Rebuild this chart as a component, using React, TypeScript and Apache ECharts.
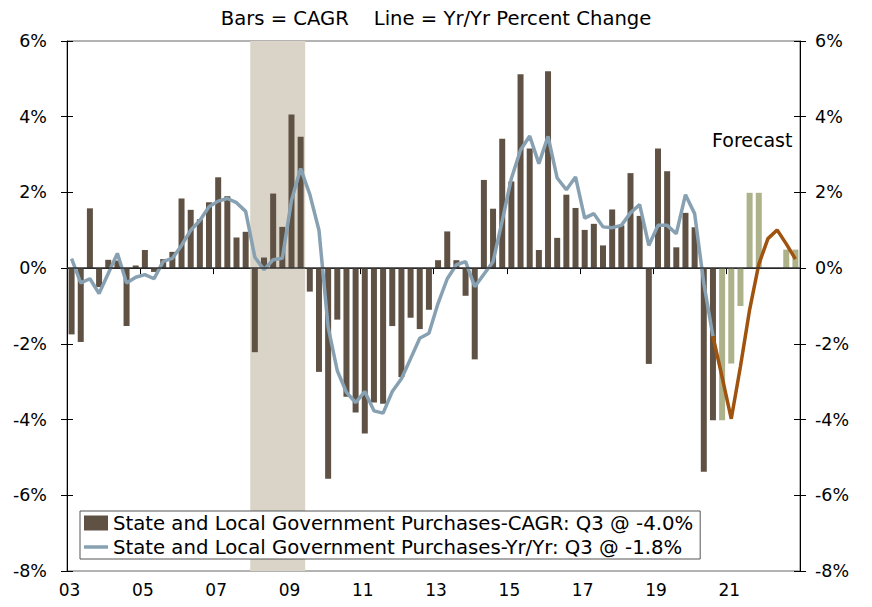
import React, { useEffect, useRef } from 'react';
import * as echarts from 'echarts';

// ---- Categories: quarters 2003Q1 .. 2022Q4 ----
const startYear = 2003;
const quarterCount = 80;
const quarters: string[] = Array.from(
  { length: quarterCount },
  (_, i) => `${startYear + Math.floor(i / 4)}Q${(i % 4) + 1}`
);

// Recession shading (inclusive quarters)
const recessionStart = '2008Q1';
const recessionEnd = '2009Q2';

// ---- CAGR bars (actual, 2003Q1 .. 2020Q3) ----
const cagrActual: number[] = [
  -1.75, -1.95, 1.58, -0.5, 0.22, 0.2, -1.53, 0.07,
  0.48, -0.1, 0.24, 0.43, 1.84, 1.54, 1.29, 1.74,
  2.4, 1.9, 0.81, 0.96, -2.22, 0.28, 1.97, 1.09,
  4.06, 3.47, -0.62, -2.74, -5.56, -1.36, -3.4, -3.81,
  -4.37, -3.55, -3.58, -1.53, -2.88, -1.31, -1.61, -1.1,
  0.21, 0.97, 0.21, -0.73, -2.41, 2.33, 1.57, 3.42,
  2.29, 5.12, 3.16, 0.48, 5.2, 0.8, 1.94, 1.59,
  1.01, 1.17, 0.6, 1.55, 1.13, 2.51, 1.38, -2.53,
  3.16, 2.56, 0.55, 1.46, 1.08, -5.38, -4.02,
];
// ---- CAGR bars (forecast, 2020Q4 .. 2022Q4) ----
const cagrForecast: number[] = [-4.02, -2.52, -1.0, 1.99, 1.99, 0, 0, 0.49, 0.49];

// ---- Yr/Yr line (actual) ----
const yoyActual: number[] = [
  0.25, -0.39, -0.28, -0.67, -0.14, 0.39, -0.39, -0.24,
  -0.17, -0.28, 0.18, 0.26, 0.6, 1.0, 1.26, 1.62,
  1.77, 1.84, 1.73, 1.5, 0.29, -0.04, 0.22, 0.26,
  1.79, 2.63, 1.95, 1.0, -1.56, -2.71, -3.28, -3.55,
  -3.26, -3.77, -3.83, -3.26, -2.92, -2.39, -1.85, -1.72,
  -0.93, -0.28, 0.09, 0.17, -0.49, -0.16, 0.17, 1.25,
  2.37, 3.12, 3.49, 2.76, 3.48, 2.38, 2.07, 2.41,
  1.32, 1.44, 1.09, 1.07, 1.13, 1.46, 1.68, 0.6,
  1.13, 1.13, 0.91, 1.94, 1.44, -0.4, -1.8,
];
// ---- Yr/Yr line (forecast) ----
const yoyForecast: number[] = [-2.88, -3.98, -2.6, -1.1, 0.1, 0.78, 1.01, 0.64, 0.24];

const barName = 'State and Local Government Purchases-CAGR: Q3 @ -4.0%';
const lineName = 'State and Local Government Purchases-Yr/Yr: Q3 @ -1.8%';
const titleText = 'Bars = CAGR    Line = Yr/Yr Percent Change';
const forecastLabel = 'Forecast';

const FONT = '"DejaVu Sans", Verdana, sans-serif';

export default function App() {
  const ref = useRef<HTMLDivElement>(null);

  useEffect(() => {
    if (!ref.current) return;
    const chart = echarts.init(ref.current, undefined, { renderer: 'svg' });

    const nA = cagrActual.length;
    const barActualData = quarters.map((_, i) => (i < nA ? cagrActual[i] : null));
    const barForecastData = quarters.map((_, i) => (i >= nA ? cagrForecast[i - nA] : null));
    const nY = yoyActual.length;
    const lineActualData = quarters.map((_, i) => (i < nY ? yoyActual[i] : null));
    const lineForecastData = quarters.map((_, i) =>
      i === nY - 1 ? yoyActual[nY - 1] : i >= nY ? yoyForecast[i - nY] : null
    );

    const recStartIdx = quarters.indexOf(recessionStart);
    const recEndIdx = quarters.indexOf(recessionEnd) + 1;

    const yBase = {
      type: 'value',
      min: -8,
      max: 6,
      interval: 2,
      splitLine: { show: false },
    };

    const option: any = {
      animation: false,
      textStyle: { fontFamily: FONT },
      title: {
        text: titleText,
        left: 'center',
        top: 3,
        textStyle: { fontSize: 19.6, fontWeight: 'normal', color: '#000', fontFamily: FONT },
      },
      grid: {
        left: 67,
        right: 72,
        top: 41,
        bottom: 36,
        show: true,
        borderColor: '#666',
        borderWidth: 1,
        backgroundColor: 'transparent',
      },
      legend: {
        data: [
          { name: barName, icon: 'rect' },
          { name: lineName, icon: 'path://M0,0H24V3.5H0Z' },
        ],
        orient: 'vertical',
        left: 80,
        top: 511,
        itemWidth: 24,
        itemHeight: 15,
        itemGap: 4,
        padding: [2, 7, 2, 4],
        borderColor: '#555',
        borderWidth: 1,
        backgroundColor: '#fff',
        textStyle: { fontSize: 19.7, color: '#000', fontFamily: FONT },
      },
      xAxis: [
        {
          type: 'category',
          data: quarters,
          position: 'bottom',
          axisLine: { show: true, lineStyle: { color: '#000', width: 1 } },
          axisTick: { show: true, interval: 7, length: 6, lineStyle: { color: '#000' } },
          axisLabel: {
            interval: 7,
            formatter: (v: string) => v.slice(2, 4),
            fontSize: 17,
            color: '#000',
            margin: 10,
            padding: [0, 4, 0, 0],
            fontFamily: FONT,
          },
          splitLine: { show: false },
        },
        {
          type: 'value',
          min: 0,
          max: quarterCount,
          show: false,
        },
      ],
      yAxis: [
        {
          ...yBase,
          position: 'left',
          axisLine: { show: true, lineStyle: { color: '#000' } },
          axisTick: { show: true, length: 6, lineStyle: { color: '#000' } },
          axisLabel: { formatter: '{value}%', fontSize: 17.5, color: '#000', margin: 20, fontFamily: FONT },
        },
        {
          ...yBase,
          position: 'right',
          axisLine: { show: true, lineStyle: { color: '#000' } },
          axisTick: { show: true, length: 6, lineStyle: { color: '#000' } },
          axisLabel: { formatter: '{value}%', fontSize: 17.5, color: '#000', margin: 15, fontFamily: FONT },
        },
        {
          ...yBase,
          position: 'left',
          axisLine: { show: false },
          axisTick: { show: true, inside: true, length: 6, lineStyle: { color: '#000' } },
          axisLabel: { show: false },
        },
        {
          ...yBase,
          position: 'right',
          axisLine: { show: false },
          axisTick: { show: true, inside: true, length: 6, lineStyle: { color: '#000' } },
          axisLabel: { show: false },
        },
      ],
      graphic: [
        {
          type: 'text',
          left: 712,
          top: 130,
          style: { text: forecastLabel, fill: '#000', font: `19px ${FONT}` },
        },
      ],
      series: [
        {
          name: 'recession',
          type: 'line',
          xAxisIndex: 1,
          yAxisIndex: 0,
          data: [],
          silent: true,
          z: 0,
          markArea: {
            silent: true,
            itemStyle: { color: '#d9d4c7' },
            data: [[{ xAxis: recStartIdx }, { xAxis: recEndIdx }]],
          },
        },
        {
          name: barName,
          type: 'bar',
          data: barActualData,
          barWidth: 6,
          barGap: '-100%',
          itemStyle: { color: '#5f5244' },
          z: 2,
          markLine: {
            symbol: 'none',
            silent: true,
            label: { show: false },
            lineStyle: { color: '#333', width: 1.5, type: 'solid' },
            data: [{ yAxis: 0 }],
          },
        },
        {
          name: 'forecastBar',
          type: 'bar',
          data: barForecastData,
          barWidth: 6,
          barGap: '-100%',
          itemStyle: { color: '#adb28b' },
          z: 2,
        },
        {
          name: lineName,
          type: 'line',
          data: lineActualData,
          symbol: 'none',
          showSymbol: false,
          lineStyle: { color: '#87a1b2', width: 3.5 },
          itemStyle: { color: '#87a1b2' },
          z: 4,
        },
        {
          name: 'forecastLine',
          type: 'line',
          data: lineForecastData,
          symbol: 'none',
          showSymbol: false,
          lineStyle: { color: '#a0520f', width: 3.5 },
          itemStyle: { color: '#a0520f' },
          z: 4,
        },
      ],
    };

    chart.setOption(option);
    return () => chart.dispose();
  }, []);

  return (
    <div
      ref={ref}
      style={{ position: 'absolute', left: 0, top: 0, width: 872, height: 607, background: '#fff' }}
    />
  );
}
